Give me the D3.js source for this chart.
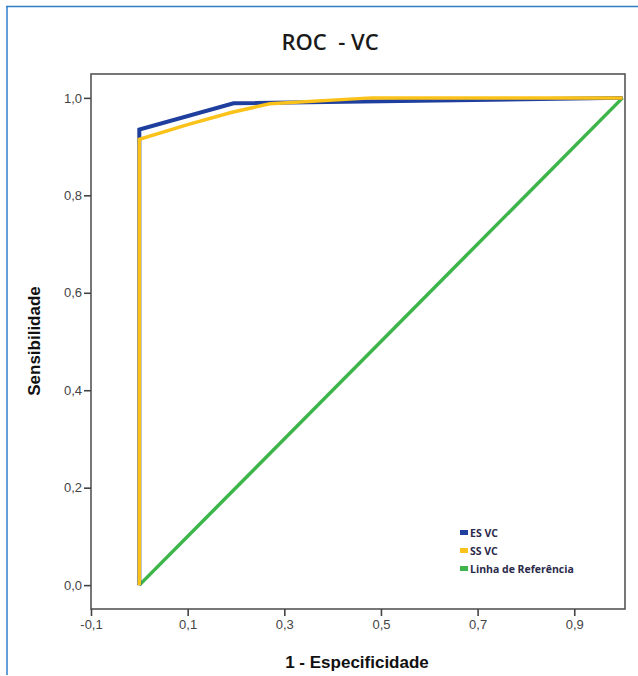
<!DOCTYPE html>
<html>
<head>
<meta charset="utf-8">
<script src="https://cdn.jsdelivr.net/npm/d3@7"></script>
<style>
  html, body { margin: 0; padding: 0; background: #fff; }
  svg { display: block; }
</style>
</head>
<body>
<div id="chart"></div>
<script>
// ROC curve data (1 - especificidade, sensibilidade)
const esVC = [
  [0, 0], [0, 0.935], [0.195, 0.989], [1, 1]
];
const ssVC = [
  [0, 0], [0, 0.915], [0.1, 0.945], [0.19, 0.97], [0.27, 0.988], [0.48, 1.0], [1, 1]
];
const refLine = [[0, 0], [1, 1]];

const xTicks = [-0.1, 0.1, 0.3, 0.5, 0.7, 0.9];
const yTicks = [0, 0.2, 0.4, 0.6, 0.8, 1.0];

const legendItems = ['ES VC', 'SS VC', 'Linha de Referência'];
const colors = ['#1f3f9e', '#fbc21a', '#3db54a'];

const width = 638, height = 676;
const plot = { left: 91, right: 625, top: 74, bottom: 609 };

const svg = d3.select('#chart').append('svg')
  .attr('width', width)
  .attr('height', height);

// outer blue frame (top and left only)
svg.append('line')
  .attr('x1', 6).attr('x2', width).attr('y1', 6.5).attr('y2', 6.5)
  .attr('stroke', '#2f7fc8').attr('stroke-width', 1.5);
svg.append('line')
  .attr('x1', 7).attr('x2', 7).attr('y1', 6).attr('y2', 675)
  .attr('stroke', '#2f7fc8').attr('stroke-width', 1.5);

const x = d3.scaleLinear().domain([-0.1, 1.005]).range([plot.left, plot.right]);
const y = d3.scaleLinear().domain([-0.049, 1.049]).range([plot.bottom, plot.top]);

// comma decimals and a plain hyphen for negatives
const fmt = d => d3.format('.1f')(d).replace('.', ',').replace('\u2212', '-');

// title
svg.append('text')
  .attr('x', 330).attr('y', 50)
  .attr('text-anchor', 'middle')
  .style('white-space', 'pre')
  .style('font-family', '"Open Sans", sans-serif')
  .style('font-size', '22px')
  .style('font-weight', '600')
  .style('fill', '#1a1a1a')
  .text('ROC  - VC');

// plot frame
svg.append('rect')
  .attr('x', plot.left).attr('y', plot.top)
  .attr('width', plot.right - plot.left)
  .attr('height', plot.bottom - plot.top)
  .attr('fill', '#fff')
  .attr('stroke', '#555')
  .attr('stroke-width', 1.6);

// axes
const xAxis = svg.append('g')
  .attr('transform', `translate(0,${plot.bottom})`)
  .call(d3.axisBottom(x).tickValues(xTicks).tickFormat(fmt).tickSize(7).tickPadding(4));
const yAxis = svg.append('g')
  .attr('transform', `translate(${plot.left},0)`)
  .call(d3.axisLeft(y).tickValues(yTicks).tickFormat(fmt).tickSize(7).tickPadding(2));

[xAxis, yAxis].forEach(g => {
  g.select('.domain').remove();
  g.selectAll('line').attr('stroke', '#444').attr('stroke-width', 1.6);
  g.selectAll('text')
    .style('font-family', '"Liberation Sans", Arial, sans-serif')
    .style('font-size', '13px')
    .style('fill', '#444');
});

// axis titles
svg.append('text')
  .attr('x', 357).attr('y', 668)
  .attr('text-anchor', 'middle')
  .style('font-family', '"Liberation Sans", Arial, sans-serif')
  .style('font-size', '17px')
  .style('font-weight', 'bold')
  .style('fill', '#111')
  .text('1 - Especificidade');

svg.append('text')
  .attr('transform', 'translate(40,341) rotate(-90)')
  .attr('text-anchor', 'middle')
  .style('font-family', '"Liberation Sans", Arial, sans-serif')
  .style('font-size', '17px')
  .style('font-weight', 'bold')
  .style('fill', '#111')
  .text('Sensibilidade');

// curves
const line = d3.line()
  .x(d => x(d[0]))
  .y(d => y(d[1]));

const series = [
  { data: refLine, color: colors[2], w: 3.5 },
  { data: esVC, color: colors[0], w: 4 },
  { data: ssVC, color: colors[1], w: 3.5 }
];

svg.append('g').selectAll('path')
  .data(series)
  .enter()
  .append('path')
  .attr('d', d => line(d.data))
  .attr('fill', 'none')
  .attr('stroke', d => d.color)
  .attr('stroke-width', d => d.w)
  .attr('stroke-linejoin', 'miter');

// legend
const legend = svg.append('g')
  .attr('transform', 'translate(460,533)');

const items = legend.selectAll('g')
  .data(legendItems)
  .enter()
  .append('g')
  .attr('transform', (d, i) => `translate(0,${i * 18})`);

items.append('rect')
  .attr('x', 0).attr('y', -3)
  .attr('width', 8).attr('height', 5)
  .attr('fill', (d, i) => colors[i]);

items.append('text')
  .attr('x', 10).attr('y', 0)
  .attr('dy', '0.35em')
  .style('font-family', '"Open Sans", sans-serif')
  .style('font-size', '10.5px')
  .style('font-weight', 'bold')
  .style('fill', '#2a2a4a')
  .text(d => d);
</script>
</body>
</html>
